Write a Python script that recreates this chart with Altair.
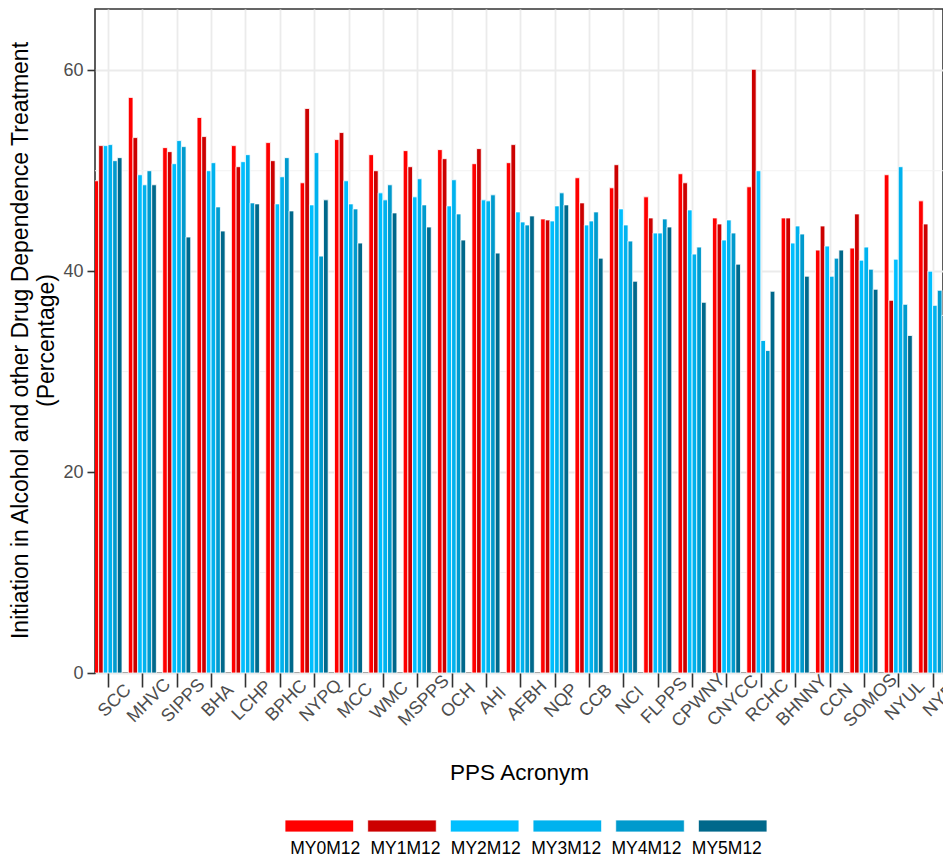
import altair as alt
import pandas as pd

categories = ["SCC", "MHVC", "SIPPS", "BHA", "LCHP", "BPHC", "NYPQ", "MCC", "WMC", "MSPPS",
              "OCH", "AHI", "AFBH", "NQP", "CCB", "NCI", "FLPPS", "CPWNY", "CNYCC", "RCHC",
              "BHNNY", "CCN", "SOMOS", "NYUL", "NYP"]
series = ["MY0M12", "MY1M12", "MY2M12", "MY3M12", "MY4M12", "MY5M12"]
colors = ["#FF0000", "#CC0000", "#00BFFF", "#00B2EE", "#009ACD", "#00688B"]

my0m12 = [49.0, 57.3, 52.3, 55.3, 52.5, 52.8, 48.8, 53.1, 51.6, 52.0, 52.1, 50.7, 50.8,
          45.2, 49.3, 48.3, 47.4, 49.7, 45.3, 48.4, 45.3, 42.1, 42.3, 49.6, 47.0]
my1m12 = [52.5, 53.3, 51.9, 53.4, 50.4, 51.0, 56.2, 53.8, 50.0, 50.4, 51.2, 52.2, 52.6,
          45.1, 46.8, 50.6, 45.3, 48.8, 44.7, 60.1, 45.3, 44.5, 45.7, 37.1, 44.7]
my2m12 = [52.5, 49.6, 50.7, 50.0, 50.9, 46.7, 46.6, 49.0, 47.8, 47.4, 46.5, 47.1, 45.9,
          45.0, 44.6, 46.2, 43.8, 46.1, 43.1, 50.0, 42.8, 42.5, 41.1, 41.2, 40.0]
my3m12 = [52.6, 48.6, 53.0, 50.8, 51.6, 49.4, 51.8, 46.7, 47.1, 49.2, 49.1, 47.0, 44.9,
          46.5, 45.0, 44.6, 43.8, 41.7, 45.1, 33.1, 44.5, 39.5, 42.4, 50.4, 36.6]
my4m12 = [51.0, 50.0, 52.4, 46.4, 46.8, 51.3, 41.5, 46.2, 48.6, 46.6, 45.7, 47.6, 44.6,
          47.8, 45.9, 43.0, 45.2, 42.4, 43.8, 32.1, 43.7, 41.3, 40.2, 36.7, 38.1]
my5m12 = [51.3, 48.6, 43.4, 44.0, 46.7, 46.0, 47.1, 42.8, 45.8, 44.4, 43.1, 41.8, 45.5,
          46.6, 41.3, 39.0, 44.4, 36.9, 40.7, 38.0, 39.5, 42.1, 38.2, 33.6, 35.6]
series_values = [my0m12, my1m12, my2m12, my3m12, my4m12, my5m12]

y_ticks = [0, 20, 40, 60]
minor_ticks = [10, 30, 50]

rows = []
for si, (s, vals) in enumerate(zip(series, series_values)):
    for ci, (c, v) in enumerate(zip(categories, vals)):
        rows.append({"pps": c, "idx": ci, "series": s, "sidx": si, "value": v})
df = pd.DataFrame(rows)

FONT = "Liberation Sans"
PITCH = 0.136
STEP = 34.36
WIDTH = 848
HEIGHT = 664

x_lo = -0.378
x_scale = alt.Scale(domain=[x_lo, x_lo + WIDTH / STEP], nice=False, zero=False)
y_scale = alt.Scale(domain=[0, 66.1], nice=False, zero=False)
color_scale = alt.Scale(domain=series, range=colors)

label_expr = "[" + ",".join(f"'{c}'" for c in categories) + "][datum.value]"

y_axis = alt.Axis(
    values=y_ticks,
    title=["Initiation in Alcohol and other Drug Dependence Treatment", "(Percentage)"],
    titleX=-86, titleY=331, titleAngle=-90, titleAlign="center", titleBaseline="top",
    titleLineHeight=26, titleFontSize=23, tickSize=8, labelPadding=4, labelFlush=False,
)

minor = alt.Chart(pd.DataFrame({"value": minor_ticks})).mark_rule(
    color="#F2F2F2", strokeWidth=1
).encode(y=alt.Y("value:Q", scale=y_scale, axis=y_axis))

bars = alt.Chart(df).transform_calculate(
    x0=f"datum.idx + (datum.sidx - 2.5) * {PITCH} - {PITCH / 2}",
    x1=f"datum.idx + (datum.sidx - 2.5) * {PITCH} + {PITCH / 2}",
).mark_rect(clip=True, stroke="white", strokeWidth=0.8).encode(
    x=alt.X("x0:Q", scale=x_scale, axis=alt.Axis(
        values=list(range(len(categories))), labelExpr=label_expr,
        title="PPS Acronym", titleY=106, titleBaseline="alphabetic",
        labelAngle=-45, labelAlign="center", labelBaseline="top",
        labelPadding=7, tickSize=14, labelOverlap=False, labelFlush=False,
    )),
    x2="x1:Q",
    y=alt.Y("value:Q", scale=y_scale, axis=y_axis),
    y2=alt.datum(0),
    color=alt.Color("series:N", scale=color_scale, legend=None),
)

leg_df = pd.DataFrame({"series": series})
leg_x = alt.X("series:N", scale=alt.Scale(domain=series, range=[190, 672],
                                          paddingInner=0.17, paddingOuter=0), axis=None)
leg_keys = alt.Chart(leg_df).mark_rect(stroke="white", strokeWidth=0.8).encode(
    x=leg_x, y=alt.value(811), y2=alt.value(823),
    color=alt.Color("series:N", scale=color_scale, legend=None),
)
leg_text = alt.Chart(leg_df).mark_text(
    font=FONT, fontSize=17.5, baseline="alphabetic", align="center", color="black"
).encode(x=leg_x, y=alt.value(845), text="series:N")

chart = alt.layer(minor, bars, leg_keys, leg_text).resolve_scale(
    x="independent"
).properties(
    width=WIDTH, height=HEIGHT,
    autosize=alt.AutoSizeParams(type="none"),
    padding={"left": 87, "top": 1, "right": 0, "bottom": 184},
    background="white",
).configure_view(
    stroke="#333333", strokeWidth=1.6
).configure_axis(
    grid=True, gridColor="#EBEBEB", gridWidth=1.8, domain=False,
    tickColor="#333333", tickWidth=1.6,
    labelFont=FONT, labelFontSize=18, labelColor="#4D4D4D",
    titleFont=FONT, titleFontSize=22.5, titleColor="black", titleFontWeight="normal",
)

chart.save("out.html", embed_options={"renderer": "svg", "actions": False})
